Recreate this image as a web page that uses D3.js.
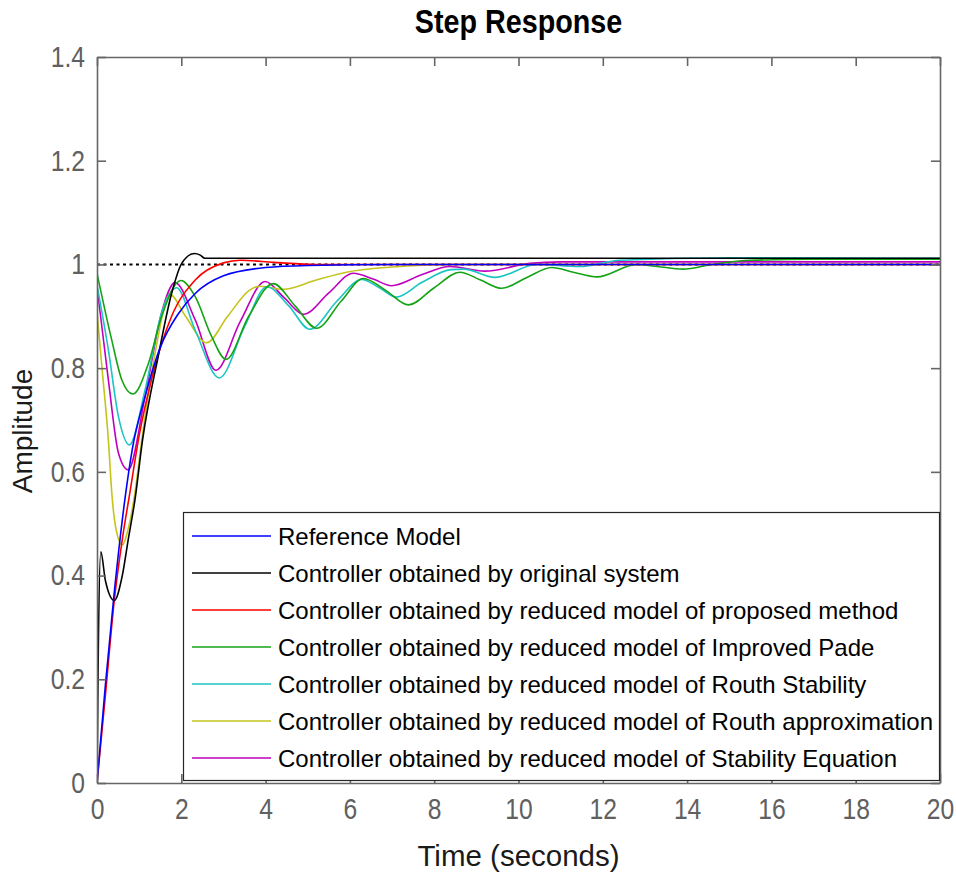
<!DOCTYPE html>
<html>
<head>
<meta charset="utf-8">
<script src="https://cdn.jsdelivr.net/npm/d3@7"></script>
<style>
  body { margin: 0; background: #fff; }
  text { font-family: "Liberation Sans", Arial, sans-serif; }
</style>
</head>
<body>
<svg id="chart" width="956" height="873"></svg>
<script>
// tick values
const xTicks = [0, 2, 4, 6, 8, 10, 12, 14, 16, 18, 20];
const yTicks = [0, 0.2, 0.4, 0.6, 0.8, 1, 1.2, 1.4];

// step responses, [time, amplitude]
const referenceModel = [[0, 0], [0.2, 0.19], [0.4, 0.36], [0.66, 0.546], [0.84, 0.645], [1.14, 0.745],
  [1.5, 0.84], [1.93, 0.905], [2.33, 0.944], [3.0, 0.978], [4.0, 0.994], [5.0, 0.998], [7, 1.0], [20, 1.0]];

const originalSystem = [[0, 0], [0.03, 0.25], [0.09, 0.446], [0.2, 0.39], [0.41, 0.352], [0.6, 0.4],
  [0.74, 0.469], [0.9, 0.546], [1.08, 0.661], [1.45, 0.822], [1.77, 0.944], [2.01, 1.002], [2.31, 1.021],
  [2.45, 1.018], [2.56, 1.012], [3, 1.012], [20, 1.012]];

const proposedMethod = [[0, 0], [0.2, 0.17], [0.41, 0.352], [0.6, 0.47], [0.78, 0.56], [1.0, 0.67],
  [1.3, 0.78], [1.77, 0.9], [2.33, 0.97], [3.0, 1.003], [3.4, 1.008], [4.2, 1.004], [5.2, 1.0], [20, 1.0]];

const improvedPade = [[0, 0.983], [0.35, 0.854], [0.59, 0.777], [0.85, 0.75], [1.22, 0.809], [1.53, 0.899],
  [1.99, 0.969], [2.33, 0.938], [2.72, 0.861], [3.06, 0.817], [3.6, 0.9], [4.18, 0.963], [4.7, 0.92],
  [5.21, 0.877], [5.8, 0.93], [6.32, 0.973], [6.85, 0.95], [7.39, 0.922], [8.0, 0.955], [8.61, 0.985],
  [9.1, 0.97], [9.6, 0.954], [10.2, 0.975], [10.79, 0.994], [11.3, 0.985], [11.86, 0.976], [12.8, 1.0],
  [13.3, 0.996], [13.9, 0.991], [14.6, 1.0], [15.5, 1.008], [17, 1.01], [20, 1.01]];

const routhStability = [[0, 0.96], [0.27, 0.835], [0.51, 0.706], [0.77, 0.652], [1.14, 0.758], [1.53, 0.906],
  [1.89, 0.955], [2.33, 0.873], [2.9, 0.781], [3.5, 0.88], [4.03, 0.957], [4.55, 0.92], [5.05, 0.875],
  [5.7, 0.93], [6.28, 0.971], [6.7, 0.955], [7.11, 0.937], [7.7, 0.965], [8.4, 0.99], [8.7, 0.991],
  [9.44, 0.975], [10.43, 1.0], [11.46, 0.996], [12.4, 1.008], [15, 1.013], [20, 1.012]];

const routhApprox = [[0, 0.909], [0.13, 0.79], [0.27, 0.661], [0.35, 0.56], [0.45, 0.49], [0.6, 0.459],
  [0.74, 0.49], [0.9, 0.56], [1.06, 0.66], [1.38, 0.83], [1.73, 0.942], [2.1, 0.9], [2.6, 0.849],
  [3.1, 0.9], [3.63, 0.951], [3.87, 0.958], [4.42, 0.952], [5.2, 0.97], [5.92, 0.985], [7, 0.995],
  [8.37, 1.0], [20, 1.0]];

const stabilityEquation = [[0, 0.957], [0.27, 0.777], [0.51, 0.636], [0.74, 0.604], [1.14, 0.745],
  [1.53, 0.906], [1.85, 0.965], [2.33, 0.893], [2.82, 0.796], [3.4, 0.89], [3.99, 0.967], [4.45, 0.935],
  [4.9, 0.904], [5.5, 0.945], [6.08, 0.983], [6.55, 0.972], [6.99, 0.959], [7.7, 0.98], [8.37, 0.996],
  [9.2, 0.987], [10.27, 1.002], [11, 1.005], [20, 1.005]];

const steadyState = [[0, 1], [20, 1]];

const seriesNames = [
  'Reference Model',
  'Controller obtained by original system',
  'Controller obtained by reduced model of proposed method',
  'Controller obtained by reduced model of Improved Pade',
  'Controller obtained by reduced model of Routh Stability',
  'Controller obtained by reduced model of Routh approximation',
  'Controller obtained by reduced model of Stability Equation'
];
const seriesData = [referenceModel, originalSystem, proposedMethod, improvedPade,
  routhStability, routhApprox, stabilityEquation];
const seriesColors = ['#0000ff', '#000000', '#ff0000', '#14a314', '#1cc4c4', '#c4c41c', '#bf00bf'];

const svg = d3.select('#chart');
const plotLeft = 97, plotRight = 940, plotTop = 57, plotBottom = 783;
const narrow = 0.85; // the original lettering is condensed

const x = d3.scaleLinear().domain([0, 20]).range([plotLeft, plotRight]);
const y = d3.scaleLinear().domain([0, 1.4]).range([plotBottom, plotTop]);

svg.append('defs').append('clipPath').attr('id', 'plot')
  .append('rect').attr('x', plotLeft).attr('y', plotTop)
  .attr('width', plotRight - plotLeft).attr('height', plotBottom - plotTop);

const line = d3.line()
  .x(d => x(d[0]))
  .y(d => y(d[1]))
  .curve(d3.curveMonotoneX);

const curves = svg.append('g').attr('clip-path', 'url(#plot)');

curves.append('path')
  .datum(steadyState)
  .attr('d', line)
  .attr('fill', 'none')
  .attr('stroke', '#000')
  .attr('stroke-width', 2)
  .attr('stroke-dasharray', '3,3.5');

// draw in reverse so the first series ends on top
seriesData.map((d, i) => ({ d, i })).reverse().forEach(s => {
  curves.append('path')
    .datum(s.d)
    .attr('d', line)
    .attr('fill', 'none')
    .attr('stroke', seriesColors[s.i])
    .attr('stroke-width', 1.6);
});

// axes
const axisColor = '#666';
function styleAxis(g) {
  g.selectAll('.domain').attr('stroke', axisColor).attr('stroke-width', 1.6);
  g.selectAll('.tick line').attr('stroke', axisColor).attr('stroke-width', 1.6);
  g.selectAll('.tick text')
    .attr('fill', '#606060')
    .style('font-size', '29px')
    .attr('x', function() { return (+d3.select(this).attr('x') || 0) / narrow; })
    .attr('transform', `scale(${narrow},1)`);
}

svg.append('g')
  .attr('transform', `translate(0,${plotBottom})`)
  .call(d3.axisBottom(x).tickValues(xTicks).tickSizeInner(-9).tickSizeOuter(0).tickPadding(15)
    .tickFormat(d => d))
  .call(styleAxis);

svg.append('g')
  .attr('transform', `translate(0,${plotTop})`)
  .call(d3.axisTop(x).tickValues(xTicks).tickSizeInner(-9).tickSizeOuter(0).tickFormat(''))
  .call(styleAxis);

svg.append('g')
  .attr('transform', `translate(${plotLeft},0)`)
  .call(d3.axisLeft(y).tickValues(yTicks).tickSizeInner(-9).tickSizeOuter(0).tickPadding(12)
    .tickFormat(d => d))
  .call(styleAxis);

svg.append('g')
  .attr('transform', `translate(${plotRight},0)`)
  .call(d3.axisRight(y).tickValues(yTicks).tickSizeInner(-9).tickSizeOuter(0).tickFormat(''))
  .call(styleAxis);

// legend
const legend = svg.append('g');
legend.append('rect')
  .attr('x', 183.5).attr('y', 512.5)
  .attr('width', 756).attr('height', 268)
  .attr('fill', '#fff')
  .attr('stroke', '#262626')
  .attr('stroke-width', 1.2);

const rows = legend.selectAll('g.row')
  .data(seriesNames)
  .enter()
  .append('g')
  .attr('class', 'row')
  .attr('transform', (d, i) => `translate(0,${536 + i * 37})`);

rows.append('line')
  .attr('x1', 192).attr('x2', 271)
  .attr('stroke', (d, i) => seriesColors[i])
  .attr('stroke-width', 1.6);

rows.append('text')
  .attr('x', 278)
  .attr('dy', '0.36em')
  .style('font-size', '24px')
  .attr('fill', '#000')
  .text(d => d);

// titles
svg.append('text')
  .attr('transform', `translate(${(plotLeft + plotRight) / 2},33) scale(0.87,1)`)
  .attr('text-anchor', 'middle')
  .style('font-weight', 'bold')
  .style('font-size', '33px')
  .text('Step Response');

svg.append('text')
  .attr('x', (plotLeft + plotRight) / 2)
  .attr('y', 866)
  .attr('text-anchor', 'middle')
  .style('font-size', '29.5px')
  .attr('fill', '#1a1a1a')
  .text('Time (seconds)');

svg.append('text')
  .attr('transform', `translate(32,431) rotate(-90)`)
  .attr('text-anchor', 'middle')
  .style('font-size', '28px')
  .attr('fill', '#1a1a1a')
  .text('Amplitude');
</script>
</body>
</html>
